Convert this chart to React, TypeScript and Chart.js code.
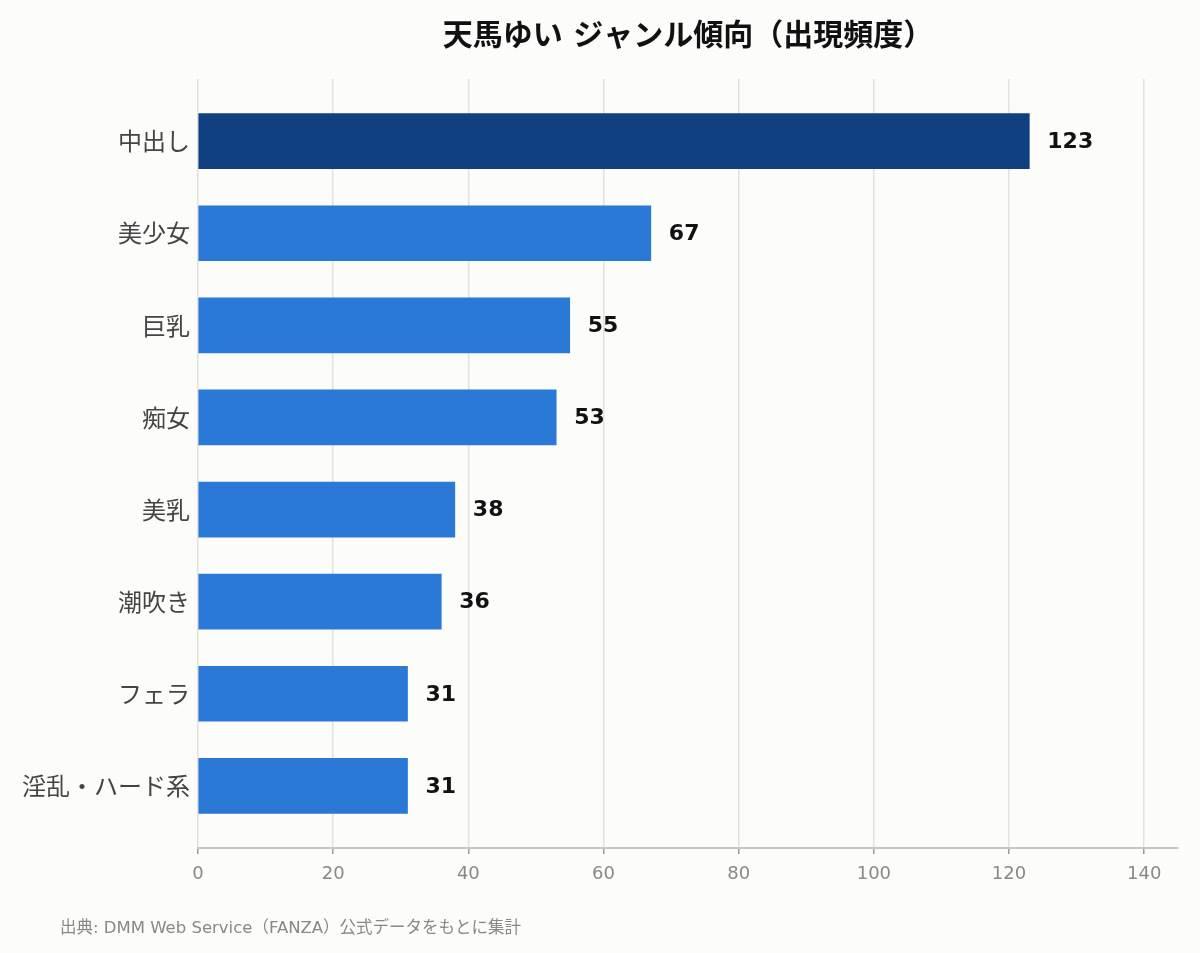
import { useEffect, useRef } from 'react';
import { Chart, registerables } from 'chart.js';

Chart.register(...registerables);

const genres = ['中出し', '美少女', '巨乳', '痴女', '美乳', '潮吹き', 'フェラ', '淫乱・ハード系'];
const counts = [123, 67, 55, 53, 38, 36, 31, 31];
const xTicks = [0, 20, 40, 60, 80, 100, 120, 140];

const TITLE = '天馬ゆい ジャンル傾向（出現頻度）';
const SOURCE = '出典: DMM Web Service（FANZA）公式データをもとに集計';
const FONT = '"DejaVu Sans", "Noto Sans CJK JP", sans-serif';

export default function App() {
  const chartRef = useRef<HTMLCanvasElement>(null);
  const chartInstanceRef = useRef<Chart | null>(null);

  useEffect(() => {
    document.body.style.margin = '0';
    document.body.style.background = '#fcfcfa';
    if (!chartRef.current) return;
    if (chartInstanceRef.current) chartInstanceRef.current.destroy();
    const ctx = chartRef.current.getContext('2d');
    if (!ctx) return;

    // title, source note, value labels
    const extras = {
      id: 'extras',
      beforeDraw(chart: any) {
        const c = chart.ctx;
        c.save();
        c.fillStyle = '#fcfcfa';
        c.fillRect(0, 0, chart.width, chart.height);
        c.restore();
      },
      afterDraw(chart: any) {
        const c = chart.ctx;
        c.save();
        c.fillStyle = '#111';
        c.font = `bold 30px ${FONT}`;
        c.textAlign = 'center';
        c.textBaseline = 'middle';
        c.fillText(TITLE, 688, 37);

        c.fillStyle = '#888';
        c.font = `16.5px ${FONT}`;
        c.textAlign = 'left';
        c.fillText(SOURCE, 60, 929);

        const meta = chart.getDatasetMeta(0);
        c.fillStyle = '#111';
        c.font = `bold 22px ${FONT}`;
        meta.data.forEach((bar: any, i: number) => {
          c.fillText(String(counts[i]), bar.x + 18, bar.y + 1);
        });
        c.restore();
      }
    };

    chartInstanceRef.current = new Chart(ctx, {
      type: 'bar',
      data: {
        datasets: [
          {
            data: counts.map((v, i) => ({ x: v, y: i })),
            backgroundColor: counts.map((_, i) => (i === 0 ? '#10407f' : '#2a79d6')),
            borderWidth: 0,
            barThickness: 55
          }
        ]
      },
      options: {
        indexAxis: 'y',
        animation: false,
        responsive: false,
        layout: { padding: { top: 79, right: 22, left: 0, bottom: 0 } },
        plugins: {
          legend: { display: false },
          tooltip: { enabled: false }
        },
        scales: {
          x: {
            type: 'linear',
            min: 0,
            max: 145,
            afterBuildTicks: (scale: any) => {
              scale.ticks = xTicks.map((v) => ({ value: v }));
            },
            afterFit: (scale: any) => {
              scale.height = 105;
            },
            grid: {
              color: '#e2e2dc',
              lineWidth: 1.5,
              tickColor: '#999',
              tickLength: 6,
              drawTicks: true
            },
            border: { display: true, color: '#c8c8c0', width: 2 },
            ticks: {
              color: '#888',
              padding: 10,
              font: { family: FONT, size: 18 }
            }
          },
          y: {
            type: 'linear',
            reverse: true,
            offset: false,
            min: -0.674,
            max: 7.674,
            afterBuildTicks: (scale: any) => {
              scale.ticks = genres.map((_, i) => ({ value: i }));
            },
            afterFit: (scale: any) => {
              scale.width = 198;
            },
            grid: { display: false, drawTicks: false, offset: false },
            border: { display: false },
            ticks: {
              color: '#444',
              padding: 8,
              labelOffset: 3,
              font: { family: FONT, size: 24 },
              callback: (v: any) => genres[Number(v)] ?? ''
            }
          }
        }
      },
      plugins: [extras]
    });

    return () => {
      if (chartInstanceRef.current) {
        chartInstanceRef.current.destroy();
        chartInstanceRef.current = null;
      }
    };
  }, []);

  return (
    <div style={{ width: 1200, height: 953, background: '#fcfcfa' }}>
      <canvas ref={chartRef} width={1200} height={953} style={{ display: 'block' }}></canvas>
    </div>
  );
}
